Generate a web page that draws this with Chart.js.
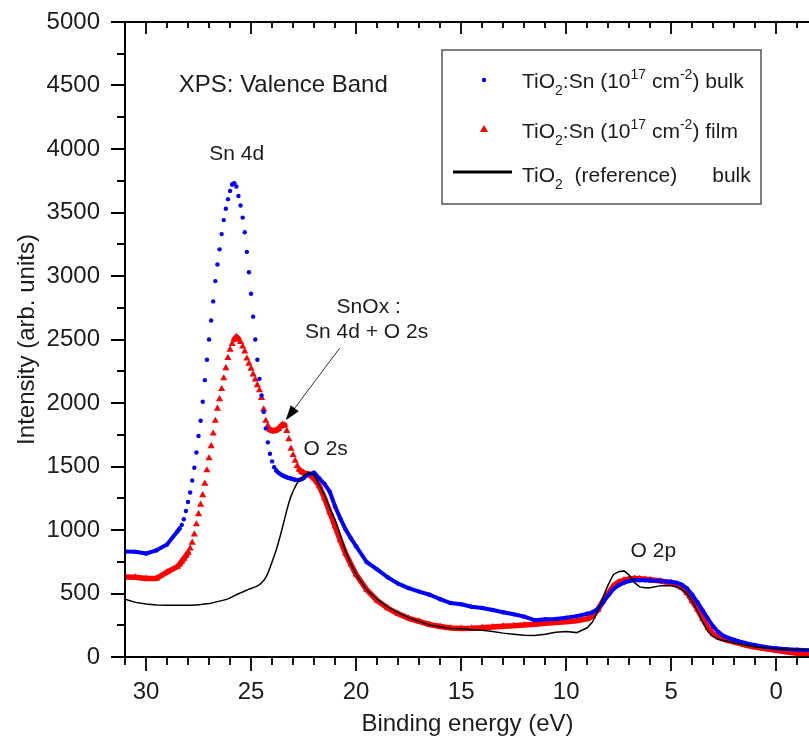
<!DOCTYPE html>
<html>
<head>
<meta charset="utf-8">
<title>XPS valence band</title>
<script src="https://cdn.jsdelivr.net/npm/chart.js@4.4.1/dist/chart.umd.min.js"></script>
<style>
  html, body { margin: 0; padding: 0; background: #fff; overflow: hidden; }
  canvas { display: block; }
</style>
</head>
<body>
<!-- 5px wider than the window: Chart.js keeps a 5px right margin, the frame is cropped at the edge like the original -->
<canvas id="xps-chart" width="814" height="744"></canvas>
<script>
// binding energy grid (eV), fine 0.1 eV steps across the Sn 4d peak
var energy = [
  31.0, 30.5, 30.0, 29.5, 29.0,
  28.5, 28.4, 28.3, 28.2, 28.1, 28.0, 27.9, 27.8, 27.7, 27.6,
  27.5, 27.4, 27.3, 27.2, 27.1, 27.0, 26.9, 26.8, 26.7, 26.6,
  26.5, 26.4, 26.3, 26.2, 26.1, 26.0, 25.9, 25.8, 25.7, 25.6,
  25.5, 25.4, 25.3, 25.2, 25.1, 25.0, 24.9, 24.8, 24.7, 24.6,
  24.5, 24.4, 24.3, 24.2, 24.1, 24.0, 23.9, 23.8, 23.7, 23.6,
  23.5, 23.4, 23.3, 23.2, 23.1, 23.0, 22.9, 22.8, 22.7, 22.6, 22.5,
  22.25, 22.0, 21.75, 21.5, 21.25, 21.0, 20.75, 20.5, 20.25, 20.0,
  19.5, 19.0, 18.5, 18.0, 17.5, 17.0, 16.5, 16.0, 15.5, 15.0, 14.5,
  14.0, 13.5, 13.0, 12.5, 12.0, 11.5, 11.0, 10.5, 10.0, 9.5, 9.0,
  8.75, 8.5, 8.25, 8.0, 7.75, 7.5, 7.25, 7.0, 6.75, 6.5, 6.25, 6.0,
  5.5, 5.0, 4.75, 4.5, 4.25, 4.0, 3.75, 3.5, 3.25, 3.0, 2.75, 2.5,
  2.0, 1.5, 1.0, 0.5, 0.0, -0.5, -1.0, -1.6
];

// TiO2:Sn (1e17 cm-2) bulk
var bulkSn = [
  830, 828, 815, 840, 885,
  990, 1012, 1040, 1085, 1150, 1220, 1295, 1390, 1490, 1610,
  1740, 1860, 2010, 2180, 2340, 2500, 2650, 2800, 2960, 3090,
  3210, 3330, 3440, 3530, 3605, 3670, 3720, 3730, 3705, 3630,
  3555, 3460, 3345, 3190, 3030, 2860, 2680, 2500, 2340, 2190,
  2060, 1930, 1800, 1690, 1600, 1540, 1495, 1468, 1452, 1440,
  1430, 1422, 1415, 1410, 1405, 1400, 1396, 1393, 1395, 1400, 1410,
  1440, 1452, 1405, 1362, 1300, 1185, 1090, 1005, 935, 872,
  748, 690, 628, 578, 542, 515, 490, 455, 425, 415, 396,
  386, 370, 352, 336, 318, 290, 297, 300, 310, 322, 340,
  352, 378, 430, 485, 535, 565, 585, 598, 604, 605, 604, 602,
  599, 592, 585, 570, 540, 490, 430, 365, 300, 240, 195, 165,
  135, 110, 92, 78, 68, 62, 57, 53
];

// TiO2:Sn (1e17 cm-2) film
var filmSn = [
  630, 628, 618, 618, 668,
  712, 730, 752, 775, 797, 820, 855, 900, 965, 1045,
  1125, 1200, 1275, 1365, 1470, 1565, 1660, 1760, 1860, 1955,
  2030, 2110, 2195, 2275, 2355, 2420, 2465, 2500, 2520, 2505,
  2480, 2445, 2405, 2350, 2310, 2270, 2225, 2185, 2140, 2100,
  2040, 1950, 1860, 1820, 1790, 1780, 1780, 1785, 1795, 1815,
  1830, 1825, 1780, 1715, 1640, 1590, 1545, 1505, 1475, 1460, 1450,
  1438, 1405, 1345, 1250, 1140, 1030, 920, 815, 730, 650,
  530, 445, 385, 340, 305, 280, 255, 240, 228, 225, 226,
  231, 236, 242, 246, 252, 258, 265, 272, 278, 285, 300,
  320, 370, 440, 500, 560, 590, 605, 615, 618, 616, 612, 608,
  598, 582, 568, 548, 505, 440, 375, 300, 230, 180, 155, 140,
  118, 95, 78, 65, 52, 40, 30, 21
];

// TiO2 reference bulk
var refTiO2 = [
  455, 430, 418, 410, 408,
  407, 407, 407, 407, 407, 407, 407, 408, 409, 410,
  412, 413, 415, 417, 419, 421, 424, 428, 432, 436,
  440, 444, 448, 452, 458, 466, 474, 482, 490, 498,
  505, 512, 520, 527, 534, 540, 546, 552, 560, 570,
  584, 602, 625, 660, 702, 748, 795, 845, 900, 960,
  1025, 1090, 1155, 1215, 1265, 1305, 1340, 1370, 1392, 1410, 1428,
  1452, 1430, 1355, 1275, 1170, 1080, 960, 830, 735, 650,
  530, 455, 395, 350, 310, 280, 252, 238, 224, 222, 215,
  210, 200, 188, 180, 172, 170, 180, 195, 200, 192, 230,
  275, 360, 470, 570, 650, 672, 678, 645, 585, 552, 545, 545,
  562, 562, 552, 532, 498, 440, 360, 275, 200, 160, 140, 130,
  110, 95, 80, 72, 66, 62, 60, 58
];

var xMajor = 5;     // labelled every 5 eV, minor tick every 1 eV
var yMajor = 500;   // labelled every 500, minor tick every 250

var FONT = '"Liberation Sans", Arial, Helvetica, sans-serif';
var INK = '#1c1c1c';

function points(ys) {
    return energy.map(function(e, i) { return { x: e, y: ys[i] }; });
}

// where the markers sit apart (fine steps on a steep flank) no line is drawn
function apart(c) {
    return Math.abs(c.p1.x - c.p0.x) < 3 && Math.abs(c.p1.y - c.p0.y) > 3;
}

var decor = {
    id: 'decor',
    afterDraw: function(chart) {
        var ctx = chart.ctx, a = chart.chartArea;
        var x = chart.scales.x, y = chart.scales.y;
        ctx.save();
        ctx.strokeStyle = '#000';
        ctx.lineWidth = 2;
        ctx.beginPath();
        ctx.moveTo(a.right, a.top); ctx.lineTo(a.left, a.top);
        ctx.lineTo(a.left, a.bottom); ctx.lineTo(a.right, a.bottom);
        ctx.stroke();

        ctx.lineWidth = 1.8;
        ctx.beginPath();
        x.ticks.forEach(function(t) {
            var px = Math.round(x.getPixelForValue(t.value));
            var major = t.value % xMajor === 0;
            ctx.moveTo(px, a.bottom); ctx.lineTo(px, a.bottom + (major ? 14 : 8));
            ctx.moveTo(px, a.top); ctx.lineTo(px, a.top + (major ? 12 : 6));
        });
        y.ticks.forEach(function(t) {
            var py = Math.round(y.getPixelForValue(t.value));
            var major = t.value % yMajor === 0;
            ctx.moveTo(a.left - (major ? 14 : 8), py); ctx.lineTo(a.left, py);
        });
        ctx.stroke();

        // annotations
        ctx.fillStyle = INK;
        ctx.textBaseline = 'alphabetic';
        ctx.font = '24px ' + FONT;
        ctx.textAlign = 'left';
        ctx.fillText('XPS: Valence Band', x.getPixelForValue(28.44), y.getPixelForValue(4451));
        ctx.font = '21px ' + FONT;
        ctx.textAlign = 'center';
        ctx.fillText('Sn 4d', x.getPixelForValue(25.68), y.getPixelForValue(3913));
        ctx.fillText('SnOx :', x.getPixelForValue(19.40), y.getPixelForValue(2708));
        ctx.fillText('Sn 4d + O 2s', x.getPixelForValue(19.50), y.getPixelForValue(2511));
        ctx.fillText('O 2s', x.getPixelForValue(21.45), y.getPixelForValue(1589));
        ctx.fillText('O 2p', x.getPixelForValue(5.85), y.getPixelForValue(786));

        // arrow to the SnOx shoulder
        var x0 = x.getPixelForValue(20.78), y0 = y.getPixelForValue(2432);
        var x1 = x.getPixelForValue(23.35), y1 = y.getPixelForValue(1865);
        var ang = Math.atan2(y1 - y0, x1 - x0);
        ctx.strokeStyle = '#333';
        ctx.lineWidth = 1;
        ctx.beginPath();
        ctx.moveTo(x0, y0);
        ctx.lineTo(x1 - 12 * Math.cos(ang), y1 - 12 * Math.sin(ang));
        ctx.stroke();
        ctx.fillStyle = '#000';
        ctx.beginPath();
        ctx.moveTo(x1, y1);
        ctx.lineTo(x1 - 15 * Math.cos(ang) + 5 * Math.sin(ang), y1 - 15 * Math.sin(ang) - 5 * Math.cos(ang));
        ctx.lineTo(x1 - 15 * Math.cos(ang) - 5 * Math.sin(ang), y1 - 15 * Math.sin(ang) + 5 * Math.cos(ang));
        ctx.closePath();
        ctx.fill();

        // legend box
        ctx.fillStyle = '#fff';
        ctx.fillRect(442, 50, 319, 154);
        ctx.strokeStyle = '#555';
        ctx.lineWidth = 1.5;
        ctx.strokeRect(442, 50, 319, 154);

        ctx.fillStyle = '#0000ff';
        ctx.beginPath(); ctx.arc(484, 80, 2.2, 0, Math.PI * 2); ctx.fill();
        ctx.fillStyle = '#ff0000';
        ctx.beginPath();
        ctx.moveTo(484, 125); ctx.lineTo(488, 132); ctx.lineTo(480, 132);
        ctx.closePath(); ctx.fill();
        ctx.strokeStyle = '#000';
        ctx.lineWidth = 3;
        ctx.beginPath(); ctx.moveTo(453, 172); ctx.lineTo(512, 172); ctx.stroke();

        ctx.fillStyle = INK;
        ctx.textAlign = 'left';
        rich(ctx, 522, 88, [['TiO'], ['2', 'sub'], [':Sn (10'], ['17', 'sup'], [' cm'], ['-2', 'sup'], [') bulk']]);
        rich(ctx, 522, 138, [['TiO'], ['2', 'sub'], [':Sn (10'], ['17', 'sup'], [' cm'], ['-2', 'sup'], [') film']]);
        rich(ctx, 522, 182, [['TiO'], ['2', 'sub'], ['  (reference)      bulk']]);
        ctx.restore();
    }
};

function rich(ctx, x, base, parts) {
    parts.forEach(function(p) {
        var small = p[1] === 'sub' || p[1] === 'sup';
        ctx.font = (small ? '14px ' : '21px ') + FONT;
        var dy = p[1] === 'sub' ? 7 : (p[1] === 'sup' ? -9 : 0);
        ctx.fillText(p[0], x, base + dy);
        x += ctx.measureText(p[0]).width;
    });
}

var ctx = document.getElementById('xps-chart').getContext('2d');

var chart = new Chart(ctx, {
    type: 'scatter',
    data: {
        datasets: [{
            label: 'TiO2 (reference) bulk',
            data: points(refTiO2),
            showLine: true,
            borderColor: '#000',
            borderWidth: 1.5,
            pointRadius: 0
        }, {
            label: 'TiO2:Sn (10^17 cm^-2) bulk',
            data: points(bulkSn),
            showLine: true,
            borderColor: '#0000ff',
            borderWidth: 4,
            borderJoinStyle: 'round',
            borderCapStyle: 'round',
            segment: { borderColor: function(c) { return apart(c) ? 'rgba(0,0,0,0)' : '#0000ff'; } },
            pointStyle: 'circle',
            pointRadius: 2.2,
            pointBorderWidth: 0,
            pointBackgroundColor: '#0000ff'
        }, {
            label: 'TiO2:Sn (10^17 cm^-2) film',
            data: points(filmSn),
            showLine: true,
            borderColor: '#ff0000',
            borderWidth: 5.5,
            borderJoinStyle: 'round',
            borderCapStyle: 'round',
            segment: { borderColor: function(c) { return apart(c) ? 'rgba(0,0,0,0)' : '#ff0000'; } },
            pointStyle: 'triangle',
            pointRadius: 4.1,
            pointBorderWidth: 0,
            pointBackgroundColor: '#ff0000'
        }]
    },
    options: {
        responsive: false,
        animation: false,
        layout: { padding: { top: 22, right: 0, bottom: 0, left: 0 } },
        plugins: { legend: { display: false }, tooltip: { enabled: false } },
        scales: {
            x: {
                type: 'linear',
                reverse: true,
                min: -1.6,
                max: 31,
                grid: { display: false, drawTicks: false },
                border: { display: false },
                ticks: {
                    stepSize: 1,
                    autoSkip: false,
                    maxRotation: 0,
                    includeBounds: false,
                    padding: 21,
                    color: INK,
                    font: { family: FONT, size: 24 },
                    callback: function(v) { return v % xMajor === 0 ? String(v) : ''; }
                },
                title: {
                    display: true,
                    text: 'Binding energy (eV)',
                    color: INK,
                    font: { family: FONT, size: 24 },
                    padding: { top: 0, bottom: 5 }
                },
                afterFit: function(s) {
                    s.height = 87;
                    s.paddingLeft = 0; s.paddingRight = 0;
                }
            },
            y: {
                min: 0,
                max: 5000,
                grid: { display: false, drawTicks: false },
                border: { display: false },
                ticks: {
                    stepSize: 250,
                    autoSkip: false,
                    padding: 25,
                    color: INK,
                    font: { family: FONT, size: 24 },
                    callback: function(v) { return v % yMajor === 0 ? String(v) : ''; }
                },
                title: {
                    display: true,
                    text: 'Intensity (arb. units)',
                    color: INK,
                    font: { family: FONT, size: 24 },
                    padding: { top: 13, bottom: 0 }
                },
                afterFit: function(s) {
                    s.width = 125;
                    s.paddingTop = 0; s.paddingBottom = 0;
                }
            }
        }
    },
    plugins: [decor]
});
</script>
</body>
</html>
